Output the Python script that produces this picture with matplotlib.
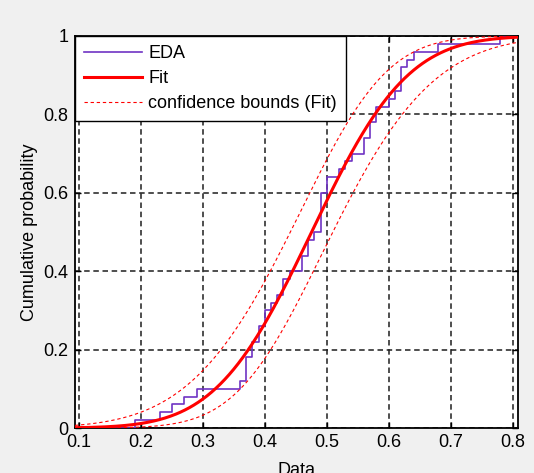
import math

import numpy as np
from matplotlib import pyplot as plt

# sample values (n = 50)
data = [0.19, 0.23, 0.25, 0.27, 0.29, 0.36,
        0.37, 0.37, 0.37, 0.38, 0.38, 0.39, 0.39, 0.40, 0.40,
        0.41, 0.42, 0.43, 0.43, 0.44, 0.46, 0.46, 0.47, 0.47, 0.48,
        0.49, 0.49, 0.49, 0.49, 0.49, 0.50, 0.50, 0.52, 0.53, 0.54,
        0.56, 0.56, 0.57, 0.57, 0.58, 0.58, 0.60, 0.61,
        0.62, 0.62, 0.62, 0.63, 0.64, 0.68, 0.78]
x_ticks = [0.1, 0.2, 0.3, 0.4, 0.5, 0.6, 0.7, 0.8]
y_ticks = [0, 0.2, 0.4, 0.6, 0.8, 1]
x_lim = (0.0935, 0.8085)

phi = np.vectorize(lambda z: 0.5 * (1 + math.erf(z / math.sqrt(2))))

x = np.sort(np.array(data))
n = len(x)
mu = x.mean()
sigma = x.std(ddof=1)

# empirical cdf
ex = np.concatenate([[x_lim[0]], x, [x_lim[1]]])
ey = np.concatenate([[0], np.arange(1, n + 1) / n, [1]])

# normal fit and confidence bounds
xs = np.linspace(x_lim[0], x_lim[1], 400)
z = (xs - mu) / sigma
var_z = (sigma ** 2 / n + z ** 2 * sigma ** 2 / (2 * n)) / sigma ** 2
half = 1.96 * np.sqrt(var_z)
p_fit = phi(z)
p_lo = phi(z - half)
p_hi = phi(z + half)

plt.rcParams['font.family'] = ['Liberation Sans', 'DejaVu Sans']

fig = plt.figure(figsize=(5.34, 4.73), dpi=100, facecolor='#f0f0f0')
ax = fig.add_axes([0.1404, 0.0951, 0.8296, 0.8288])

grid_kw = dict(color='#1e1e1e', linewidth=1.1, linestyle=(0, (3.6, 2.4)))
ax.grid(True, **grid_kw)
ax.set_axisbelow(True)

ax.step(ex, ey, where='post', color='#6f33c4', linewidth=1.2, label='EDA', zorder=3)
ax.plot(xs, p_fit, color='#ff0000', linewidth=2.2, label='Fit', zorder=4)
ax.plot(xs, p_lo, color='#ff0000', linewidth=0.8, linestyle=(0, (3, 2.5)),
        label='confidence bounds (Fit)', zorder=4)
ax.plot(xs, p_hi, color='#ff0000', linewidth=0.8, linestyle=(0, (3, 2.5)), zorder=4)

ax.set_xlim(*x_lim)
ax.set_ylim(0, 1)
ax.set_xticks(x_ticks)
ax.set_yticks(y_ticks)
ax.set_xticklabels([f'{t:g}' for t in x_ticks])
ax.set_yticklabels([f'{t:g}' for t in y_ticks])
ax.tick_params(direction='in', top=True, right=True, length=4, width=1,
               labelsize=13, pad=4.5)
for s in ax.spines.values():
    s.set_linewidth(1.3)
    s.set_color('black')

ax.set_xlabel('Data', fontsize=13, labelpad=8)
ax.set_ylabel('Cumulative probability', fontsize=13, labelpad=4)

leg = ax.legend(loc='upper left', fontsize=13, frameon=True, fancybox=False,
                edgecolor='black', framealpha=1, borderaxespad=0,
                handlelength=3.2, handletextpad=0.35, labelspacing=0.44,
                borderpad=0.5)
leg.get_frame().set_linewidth(1.0)

plt.savefig('out.png', dpi=100, facecolor=fig.get_facecolor())
